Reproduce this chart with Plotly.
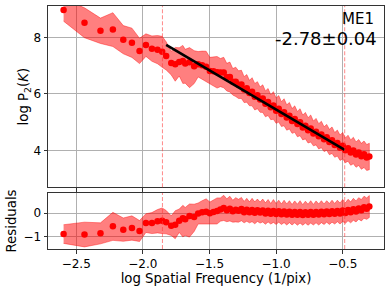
import plotly.graph_objects as go

# ---- data ----
LOG_K = [-2.595, -2.438, -2.318, -2.225, -2.147, -2.082, -2.025, -1.977, -1.932, -1.890,
         -1.855, -1.825, -1.787, -1.757, -1.727, -1.700, -1.682, -1.650, -1.615, -1.585,
         -1.555, -1.525, -1.497, -1.470, -1.443, -1.418, -1.393, -1.370, -1.347, -1.325,
         -1.303, -1.282,
         -1.26, -1.24, -1.22, -1.20, -1.18, -1.16, -1.14, -1.12, -1.10, -1.08,
         -1.06, -1.04, -1.02, -1.00, -0.98, -0.96, -0.94, -0.92, -0.90, -0.88,
         -0.86, -0.84, -0.82, -0.80, -0.78, -0.76, -0.74, -0.72, -0.70, -0.68,
         -0.66, -0.64, -0.62, -0.60, -0.58, -0.56, -0.54, -0.52, -0.50, -0.48,
         -0.46, -0.44, -0.42, -0.40, -0.38, -0.36, -0.34, -0.32, -0.30]

RESID = [-0.90, -0.92, -0.87, -0.57, -0.71, -0.64, -0.77, -0.43, -0.43, -0.35,
         -0.33, -0.39, -0.54, -0.50, -0.33, -0.22, -0.26, -0.13, -0.17, -0.02,
         0.03, 0.06, -0.01, 0.05, 0.09, 0.15, 0.22, 0.12, 0.19, 0.08,
         0.14, 0.10,
         0.17, 0.04, 0.14, 0.03, 0.13, 0.01, 0.12, 0.02, 0.11, -0.02,
         0.10, -0.03, 0.09, -0.04, 0.08, -0.05, 0.07, -0.06, 0.06, -0.07,
         0.05, -0.07, 0.05, -0.08, 0.04, -0.07, 0.05, -0.07, 0.05, -0.06,
         0.06, -0.05, 0.07, -0.04, 0.08, -0.03, 0.09, -0.02, 0.11, 0.00,
         0.13, 0.03, 0.16, 0.07, 0.20, 0.12, 0.25, 0.19, 0.28]

ERR_UP = [0.40, 0.53, 0.45, 0.60, 0.50, 0.52, 0.45, 0.40, 0.45, 0.50,
          0.55, 0.50, 0.42, 0.60, 0.50, 0.55, 0.50, 0.52, 0.55, 0.45,
          0.50, 0.55, 0.48, 0.52, 0.56, 0.50, 0.54, 0.49, 0.53, 0.47,
          0.52, 0.49,
          0.50, 0.46, 0.49, 0.45, 0.50, 0.47, 0.48, 0.45, 0.49, 0.46,
          0.48, 0.44, 0.49, 0.45, 0.47, 0.44, 0.48, 0.45, 0.47, 0.44,
          0.47, 0.45, 0.48, 0.44, 0.47, 0.45, 0.48, 0.44, 0.47, 0.45,
          0.47, 0.44, 0.46, 0.45, 0.47, 0.44, 0.46, 0.45, 0.47, 0.44,
          0.46, 0.45, 0.47, 0.45, 0.46, 0.46, 0.47, 0.46, 0.47]

ERR_DN = [0.40, 0.53, 0.45, 0.60, 0.50, 0.52, 0.45, 0.40, 0.45, 0.50,
          0.55, 0.50, 0.42, 0.60, 0.50, 0.80, 0.70, 0.90, 0.62, 0.45,
          0.50, 0.55, 0.48, 0.52, 0.56, 0.50, 0.54, 0.49, 0.53, 0.47,
          0.52, 0.49,
          0.50, 0.46, 0.49, 0.45, 0.50, 0.47, 0.48, 0.45, 0.49, 0.46,
          0.48, 0.44, 0.49, 0.45, 0.47, 0.44, 0.48, 0.45, 0.47, 0.44,
          0.47, 0.45, 0.48, 0.44, 0.47, 0.45, 0.48, 0.44, 0.47, 0.45,
          0.47, 0.44, 0.46, 0.45, 0.47, 0.44, 0.46, 0.45, 0.47, 0.44,
          0.46, 0.45, 0.47, 0.45, 0.46, 0.46, 0.47, 0.46, 0.47]

FIT_SLOPE = -2.78
FIT_INTERCEPT = 2.667
FIT_RANGE = [-1.825, -0.485]
VLINES = [-1.853, -0.485]
NAME = "ME1"
SLOPE_TEXT = "-2.78±0.04"

X_TICKS = [-2.5, -2.0, -1.5, -1.0, -0.5]
X_TICK_TEXT = ["\u22122.5", "\u22122.0", "\u22121.5", "\u22121.0", "\u22120.5"]
Y_TOP_TICKS = [4, 6, 8]
Y_RES_TICKS = [-1, 0]
Y_RES_TEXT = ["\u22121", "0"]

# ---- derived ----
def model(k):
    return FIT_INTERCEPT + FIT_SLOPE * k

fit_vals = [model(k) for k in LOG_K]
logp = [f + r for f, r in zip(fit_vals, RESID)]
top_hi = [p + e for p, e in zip(logp, ERR_UP)]
top_lo = [p - e for p, e in zip(logp, ERR_DN)]
res_hi = [r + e for r, e in zip(RESID, ERR_UP)]
res_lo = [r - e for r, e in zip(RESID, ERR_DN)]

RED = "#ff0000"
BAND = "rgba(255,0,0,0.5)"
FONT = "DejaVu Sans"
LABEL_SIZE = 13.3

fig = go.Figure()

# top panel
fig.add_trace(go.Scatter(x=LOG_K + LOG_K[::-1], y=top_hi + top_lo[::-1], fill="toself",
                         fillcolor=BAND, line=dict(color=BAND, width=0.8), mode="lines",
                         xaxis="x2", yaxis="y2", hoverinfo="skip"))
fig.add_trace(go.Scatter(x=LOG_K, y=logp, mode="markers", marker=dict(color=RED, size=6.5),
                         xaxis="x2", yaxis="y2"))
fig.add_trace(go.Scatter(x=FIT_RANGE, y=[model(k) for k in FIT_RANGE], mode="lines",
                         line=dict(color="black", width=2.6), xaxis="x2", yaxis="y2"))

# residual panel
fig.add_trace(go.Scatter(x=LOG_K + LOG_K[::-1], y=res_hi + res_lo[::-1], fill="toself",
                         fillcolor=BAND, line=dict(color=BAND, width=0.8), mode="lines",
                         xaxis="x", yaxis="y", hoverinfo="skip"))
fig.add_trace(go.Scatter(x=LOG_K, y=RESID, mode="markers", marker=dict(color=RED, size=6.5),
                         xaxis="x", yaxis="y"))

shapes = []
for v in VLINES:
    for yr in ("y domain", "y2 domain"):
        shapes.append(dict(type="line", xref="x" if yr == "y domain" else "x2", yref=yr,
                           x0=v, x1=v, y0=0, y1=1, layer="above",
                           line=dict(color="rgba(255,60,60,0.6)", width=1, dash="4px,2px")))

axis_common = dict(showline=True, linecolor="#333333", linewidth=1, mirror=True,
                   ticks="outside", ticklen=3.5, tickwidth=1, tickcolor="#333333",
                   showgrid=True, gridcolor="#b0b0b0", gridwidth=0.8, zeroline=False,
                   automargin=False,
                   tickfont=dict(family=FONT, size=12, color="black"))

XR = [-2.712, -0.19]
fig.update_layout(
    width=390, height=291,
    margin=dict(l=48, r=6, t=6, b=42),
    paper_bgcolor="white", plot_bgcolor="white",
    showlegend=False,
    font=dict(family=FONT, size=12, color="black"),
    shapes=shapes,
    xaxis=dict(domain=[0, 1], anchor="y", range=XR, tickvals=X_TICKS, ticktext=X_TICK_TEXT,
               title=dict(text="log Spatial Frequency (1/pix)",
                          font=dict(family=FONT, size=LABEL_SIZE), standoff=3),
               **axis_common),
    xaxis2=dict(domain=[0, 1], anchor="y2", range=XR, tickvals=X_TICKS, showticklabels=False,
                matches="x", **axis_common),
    yaxis=dict(domain=[0, 0.2305], anchor="x", range=[-1.54, 0.86], tickvals=Y_RES_TICKS,
               ticktext=Y_RES_TEXT,
               title=dict(text="Residuals", font=dict(family=FONT, size=LABEL_SIZE), standoff=3),
               **axis_common),
    yaxis2=dict(domain=[0.254, 1], anchor="x2", range=[2.69, 9.12], tickvals=Y_TOP_TICKS,
                title=dict(text="log P<sub>2</sub>(<i>K</i>)",
                           font=dict(family=FONT, size=LABEL_SIZE), standoff=1),
                **axis_common),
    annotations=[
        dict(text=NAME, xref="paper", yref="paper", x=0.975, y=0.946, xanchor="right",
             yanchor="middle", showarrow=False, font=dict(family=FONT, size=15, color="black")),
        dict(text=SLOPE_TEXT, xref="paper", yref="paper", x=0.985, y=0.867, xanchor="right",
             yanchor="middle", showarrow=False, font=dict(family=FONT, size=18, color="black")),
    ],
)

fig.write_html("out.html", config={"displayModeBar": False},
               post_script="document.body.style.margin='0';")
